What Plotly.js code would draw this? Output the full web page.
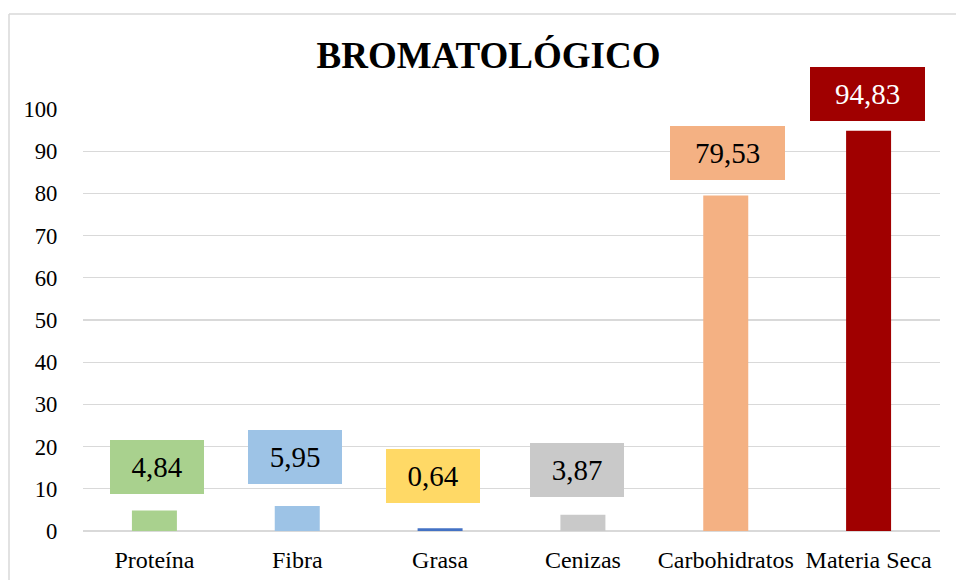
<!DOCTYPE html>
<html>
<head>
<meta charset="utf-8">
<script src="https://cdn.plot.ly/plotly-3.0.1.min.js"></script>
<style>
html,body{margin:0;padding:0;background:#fff;}
#chart{width:956px;height:580px;}
</style>
</head>
<body>
<div id="chart"></div>
<script>
// ---- data ----
const categories = ["Proteína", "Fibra", "Grasa", "Cenizas", "Carbohidratos", "Materia Seca"];
const values = [4.84, 5.95, 0.64, 3.87, 79.53, 94.83];
const valueLabels = ["4,84", "5,95", "0,64", "3,87", "79,53", "94,83"];
const yTicks = [0, 10, 20, 30, 40, 50, 60, 70, 80, 90, 100];

// ---- styles ----
const barColors = ["#A9D18E", "#9DC3E6", "#4472C4", "#C9C9C9", "#F4B183", "#A00000"];
const labelBg = ["#A9D18E", "#9DC3E6", "#FFD966", "#C9C9C9", "#F4B183", "#A00000"];
const labelColor = ["#000", "#000", "#000", "#000", "#000", "#fff"];
const labelGap = [17, 22, 25, 18, 15, 10];
const labelXShift = [2.5, -2.5, -7.5, -5.5, 2, -1];
const labelW = [94, 94, 94, 94, 115, 115];

const W = 956, H = 580;
const M = {l: 83, r: 16, t: 109, b: 49};
const pw = W - M.l - M.r, ph = H - M.t - M.b;
const px = x => (x - M.l) / pw;
const py = y => (H - M.b - y) / ph;

const font = "Liberation Serif";

const trace = {
  type: "bar",
  x: categories,
  y: values,
  marker: {color: barColors},
  hoverinfo: "none"
};

const annotations = categories.map((c, i) => ({
  x: c, y: values[i], xref: "x", yref: "y",
  text: valueLabels[i],
  showarrow: false,
  yanchor: "bottom", xanchor: "center",
  yshift: labelGap[i], xshift: labelXShift[i],
  bgcolor: labelBg[i],
  width: labelW[i], height: 54, borderpad: 0, borderwidth: 0,
  font: {family: font, size: 29, color: labelColor[i]}
}));

const layout = {
  width: W, height: H,
  margin: M,
  font: {family: font, color: "#000"},
  paper_bgcolor: "#fff", plot_bgcolor: "#fff",
  showlegend: false,
  bargap: 0.685,
  title: {
    text: "<b>BROMATOLÓGICO</b>",
    font: {family: font, size: 37, color: "#000"},
    x: 488.5 / W, xanchor: "center", xref: "container",
    y: 1 - 55 / H, yanchor: "middle", yref: "container"
  },
  xaxis: {
    type: "category",
    tickfont: {family: font, size: 24, color: "#000"},
    ticks: "outside", ticklen: 7, tickcolor: "rgba(0,0,0,0)",
    showgrid: false, showline: false, zeroline: false,
    fixedrange: true
  },
  yaxis: {
    range: [0, 100],
    tickvals: yTicks,
    ticktext: yTicks.map(String),
    tickfont: {family: font, size: 22.7, color: "#000"},
    ticks: "outside", ticklen: 20, tickcolor: "rgba(0,0,0,0)",
    showgrid: true, gridcolor: "#d9d9d9", gridwidth: 1.3,
    zeroline: true, zerolinecolor: "#d9d9d9", zerolinewidth: 1.3,
    showline: false, fixedrange: true
  },
  annotations: annotations,
  shapes: [
    {type: "line", xref: "paper", yref: "paper", x0: px(9), x1: px(W + 5), y0: py(14), y1: py(14),
     line: {color: "#d9d9d9", width: 1.5}},
    {type: "line", xref: "paper", yref: "paper", x0: px(9), x1: px(9), y0: py(14), y1: py(H + 5),
     line: {color: "#d9d9d9", width: 1.5}}
  ]
};

Plotly.newPlot("chart", [trace], layout, {displayModeBar: false, staticPlot: true});
</script>
</body>
</html>
